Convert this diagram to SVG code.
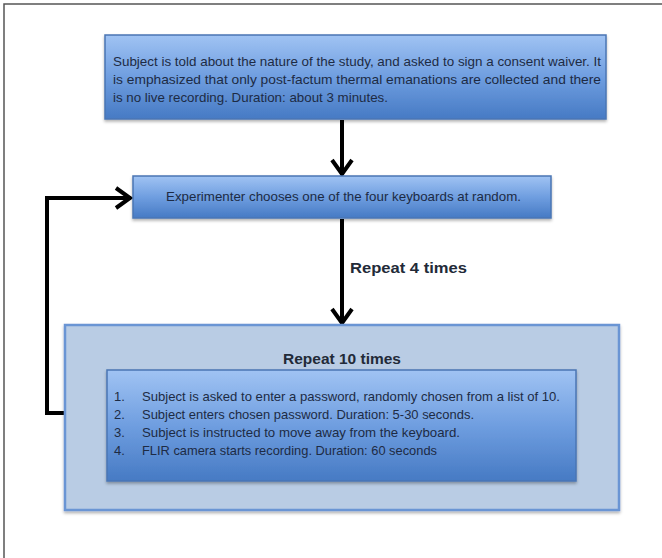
<svg xmlns="http://www.w3.org/2000/svg" width="662" height="558" viewBox="0 0 662 558">
<style>
.t{font-family:"Liberation Sans","Open Sans",sans-serif;font-size:13px;fill:#1d2b44}
.b{font-family:"Liberation Sans","Open Sans",sans-serif;font-size:15px;font-weight:bold;fill:#222a38}
.box{fill:url(#g);stroke:#4a76b4;stroke-width:1.5;filter:url(#sh)}
.con{fill:none;stroke:#000;stroke-width:4;stroke-linejoin:miter}
</style>
<defs>
<linearGradient id="g" x1="0" y1="0" x2="0" y2="1">
<stop offset="0" stop-color="#a0c3f3"/>
<stop offset="0.5" stop-color="#6f9ee0"/>
<stop offset="1" stop-color="#467ac4"/>
</linearGradient>
<filter id="sh" x="-5%" y="-10%" width="110%" height="130%">
<feDropShadow dx="0" dy="2" stdDeviation="1.5" flood-color="#000" flood-opacity="0.3"/>
</filter>
<marker id="ah" markerUnits="userSpaceOnUse" viewBox="-20 -14 24 28" markerWidth="24" markerHeight="28" refX="0" refY="0" orient="auto">
<path d="M -15 -10 L -1 0 L -15 10" fill="none" stroke="#000" stroke-width="4"/>
</marker>
</defs>
<path d="M 4 558 V 4 H 662" fill="none" stroke="#555" stroke-width="1.5"/>
<g id="connectors">
<line class="con" x1="342" y1="120" x2="342" y2="175" marker-end="url(#ah)"/>
<line class="con" x1="342" y1="219" x2="342" y2="324" marker-end="url(#ah)"/>
<polyline class="con" points="65,413 47,413 47,198 131,198" marker-end="url(#ah)"/>
<text class="b" x="350" y="273" textLength="117" lengthAdjust="spacingAndGlyphs">Repeat  4 times</text>
</g>
<g id="consent">
<rect class="box" x="105" y="35" width="501" height="84"/>
<text class="t" x="113" y="66" textLength="488" lengthAdjust="spacingAndGlyphs">Subject is told about the nature of the study, and asked to sign a consent waiver. It</text>
<text class="t" x="113" y="84" textLength="488" lengthAdjust="spacingAndGlyphs">is emphasized that only post-factum thermal emanations are collected and there</text>
<text class="t" x="113" y="102" textLength="275" lengthAdjust="spacingAndGlyphs">is no live recording. Duration: about 3 minutes.</text>
</g>
<g id="choose">
<rect class="box" x="133" y="176" width="418" height="42"/>
<text class="t" x="166" y="201" textLength="355" lengthAdjust="spacingAndGlyphs">Experimenter chooses one of the four keyboards at random.</text>
</g>
<g id="repeat10">
<rect x="65" y="325" width="554" height="185" fill="#b9cce4" stroke="#6b95d4" stroke-width="2.5" filter="url(#sh)"/>
<text class="b" x="342" y="364" text-anchor="middle" font-size="17" textLength="118" lengthAdjust="spacingAndGlyphs">Repeat  10 times</text>
</g>
<g id="steps">
<rect class="box" x="107" y="370" width="469" height="111"/>
<text class="t" x="114" y="401">1.</text>
<text class="t" x="142" y="401" textLength="418" lengthAdjust="spacingAndGlyphs">Subject is asked to enter a password, randomly chosen from a list of 10.</text>
<text class="t" x="114" y="419">2.</text>
<text class="t" x="142" y="419" textLength="332" lengthAdjust="spacingAndGlyphs">Subject enters chosen password. Duration: 5-30 seconds.</text>
<text class="t" x="114" y="437">3.</text>
<text class="t" x="142" y="437" textLength="318" lengthAdjust="spacingAndGlyphs">Subject is instructed to move away from the keyboard.</text>
<text class="t" x="114" y="455">4.</text>
<text class="t" x="142" y="455" textLength="295" lengthAdjust="spacingAndGlyphs">FLIR camera starts recording. Duration: 60 seconds</text>
</g>
</svg>
